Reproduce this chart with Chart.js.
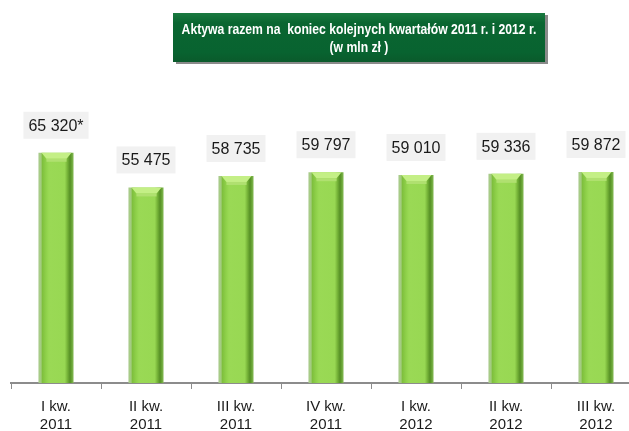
<!DOCTYPE html>
<html>
<head>
<meta charset="utf-8">
<script src="https://cdn.jsdelivr.net/npm/chart.js@4/dist/chart.umd.min.js"></script>
<style>
  html, body { margin: 0; padding: 0; background: #fff; overflow: hidden; }
  #wrap { position: relative; width: 645px; height: 431px; }
  #title {
    position: absolute; left: 173px; top: 13px; width: 372px; height: 49px;
    background: linear-gradient(to bottom, #1a7a40 0%, #0a6631 20%, #086330 80%, #0a5a2b 100%);
    box-shadow: 3px 2px 0 #8a8a8a;
    color: #fff;
    font-family: "Liberation Sans", Arial, sans-serif;
    font-weight: bold; font-size: 14px; line-height: 18px;
    white-space: nowrap;
  }
  #title span {
    position: absolute; left: 50%;
    transform: translateX(-50%) scaleX(0.87); transform-origin: 50% 50%;
  }
  #title .l1 { top: 7px; }
  #title .l2 { top: 25px; }
</style>
</head>
<body>
<div id="wrap">
  <canvas id="assetsChart" width="645" height="431"></canvas>
  <div id="title"><span class="l1">Aktywa razem na&nbsp; koniec kolejnych kwartałów 2011 r. i 2012 r.</span><span class="l2">(w mln zł )</span></div>
</div>
<script>
// dane
const quarters = ['I kw.', 'II kw.', 'III kw.', 'IV kw.', 'I kw.', 'II kw.', 'III kw.'];
const years = ['2011', '2011', '2011', '2011', '2012', '2012', '2012'];
const assets = [65320, 55475, 58735, 59797, 59010, 59336, 59872];
const valueLabels = ['65 320*', '55 475', '58 735', '59 797', '59 010', '59 336', '59 872'];

const labels = quarters.map((q, i) => [q, years[i]]);
const BAR_PCT = 0.39;

// bar look: horizontal gradient, placed with the x scale
function barFill(context) {
  const chart = context.chart;
  const xs = chart.scales.x;
  if (!xs || !chart.chartArea || context.dataIndex === undefined) return '#94d64e';
  const cx = xs.getPixelForValue(context.dataIndex);
  const half = xs.width / labels.length * BAR_PCT / 2;
  const g = chart.ctx.createLinearGradient(cx - half, 0, cx + half, 0);
  g.addColorStop(0, '#aacb8c');
  g.addColorStop(0.08, '#a3cc80');
  g.addColorStop(0.1, '#7dbd3c');
  g.addColorStop(0.22, '#8fd14a');
  g.addColorStop(0.3, '#9ad955');
  g.addColorStop(0.75, '#98d853');
  g.addColorStop(0.82, '#78b63a');
  g.addColorStop(0.9, '#558f25');
  g.addColorStop(0.95, '#6aa637');
  g.addColorStop(1, '#88bb5a');
  return g;
}

const bevelPlugin = {
  id: 'bevel',
  afterDatasetsDraw(chart) {
    const ctx = chart.ctx;
    chart.getDatasetMeta(0).data.forEach(bar => {
      const l = bar.x - bar.width / 2, r = bar.x + bar.width / 2, t = bar.y;
      ctx.save();
      ctx.fillStyle = '#c4ef86';
      ctx.beginPath();
      ctx.moveTo(l + 3, t);
      ctx.lineTo(r - 2, t);
      ctx.lineTo(r - 7, t + 6);
      ctx.lineTo(l + 8, t + 6);
      ctx.closePath();
      ctx.fill();
      ctx.fillStyle = '#b0e070';
      ctx.fillRect(l + 8, t + 6, bar.width - 15, 3);
      ctx.restore();
    });
  }
};

const valueBoxPlugin = {
  id: 'valueBoxes',
  afterDatasetsDraw(chart) {
    const ctx = chart.ctx;
    ctx.save();
    ctx.font = '16px "Liberation Sans", Arial, sans-serif';
    ctx.textAlign = 'center';
    ctx.textBaseline = 'middle';
    chart.getDatasetMeta(0).data.forEach((bar, i) => {
      const txt = valueLabels[i];
      const w = ctx.measureText(txt).width + 10;
      const h = 27;
      const bottom = bar.y - 14;
      ctx.fillStyle = '#f1f1f1';
      ctx.fillRect(bar.x - w / 2, bottom - h, w, h);
      ctx.fillStyle = '#1a1a1a';
      ctx.fillText(txt, bar.x, bottom - h / 2 + 1);
    });
    ctx.restore();
  }
};

new Chart(document.getElementById('assetsChart'), {
  type: 'bar',
  data: {
    labels: labels,
    datasets: [{
      data: assets,
      backgroundColor: barFill,
      borderWidth: 0,
      barPercentage: BAR_PCT,
      categoryPercentage: 1
    }]
  },
  options: {
    responsive: false,
    animation: false,
    layout: { padding: { left: 11, right: 4, top: 101, bottom: 0 } },
    plugins: {
      legend: { display: false },
      tooltip: { enabled: false }
    },
    scales: {
      y: {
        display: false,
        min: 0,
        max: 80000
      },
      x: {
        afterFit(scale) { scale.height = 48; },
        border: { color: '#8c8c8c', width: 2 },
        grid: {
          offset: true,
          drawOnChartArea: false,
          color: '#8c8c8c',
          tickLength: 6,
          lineWidth: 1
        },
        ticks: {
          padding: 9,
          color: '#1a1a1a',
          font: { family: '"Liberation Sans", Arial, sans-serif', size: 15, lineHeight: 1.2 }
        }
      }
    }
  },
  plugins: [bevelPlugin, valueBoxPlugin]
});
</script>
</body>
</html>
